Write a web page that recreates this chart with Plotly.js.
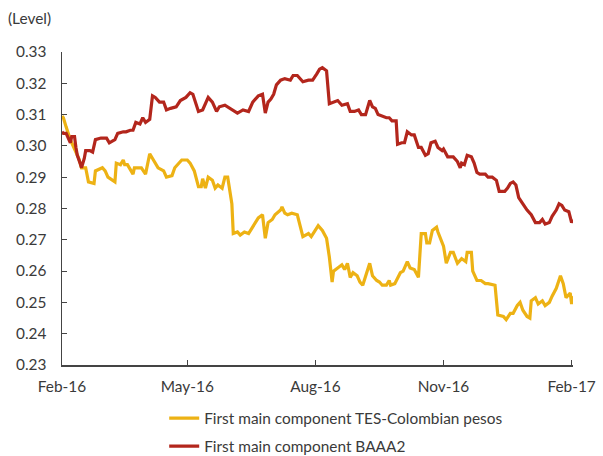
<!DOCTYPE html>
<html>
<head>
<meta charset="utf-8">
<script src="https://cdn.plot.ly/plotly-3.0.1.min.js"></script>
<style>html,body{margin:0;padding:0;background:#fff;}#chart{width:603px;height:456px;}</style>
</head>
<body>
<div id="chart"></div>
<script>
// First main component TES-Colombian pesos
var tesDates = ["2016-02-01","2016-02-02","2016-02-04","2016-02-07","2016-02-10","2016-02-13","2016-02-15","2016-02-18","2016-02-20","2016-02-24","2016-02-25",
"2016-03-01","2016-03-03","2016-03-05","2016-03-10","2016-03-11","2016-03-14","2016-03-16","2016-03-17","2016-03-19","2016-03-23","2016-03-24","2016-03-29",
"2016-04-01","2016-04-04","2016-04-06","2016-04-10","2016-04-14","2016-04-16","2016-04-20","2016-04-22","2016-04-27",
"2016-05-01","2016-05-03","2016-05-06","2016-05-09","2016-05-11","2016-05-12","2016-05-14","2016-05-16","2016-05-19","2016-05-21","2016-05-23","2016-05-26","2016-05-28","2016-05-30",
"2016-06-02","2016-06-03","2016-06-06","2016-06-08","2016-06-11","2016-06-14","2016-06-17","2016-06-21","2016-06-24","2016-06-26","2016-06-28",
"2016-07-01","2016-07-03","2016-07-07","2016-07-08","2016-07-10","2016-07-12","2016-07-15","2016-07-19","2016-07-23","2016-07-27","2016-07-29",
"2016-08-03","2016-08-06","2016-08-09","2016-08-11","2016-08-13","2016-08-14","2016-08-17","2016-08-20","2016-08-22","2016-08-24","2016-08-26","2016-08-28","2016-08-31",
"2016-09-02","2016-09-04","2016-09-07","2016-09-09","2016-09-11","2016-09-14","2016-09-16","2016-09-18","2016-09-21","2016-09-23","2016-09-24","2016-09-27",
"2016-10-01","2016-10-03","2016-10-06","2016-10-08","2016-10-11","2016-10-14","2016-10-16","2016-10-19","2016-10-20","2016-10-22","2016-10-24","2016-10-27","2016-10-28","2016-10-31",
"2016-11-01","2016-11-03","2016-11-06","2016-11-08","2016-11-09","2016-11-11","2016-11-14","2016-11-17","2016-11-18","2016-11-21","2016-11-22","2016-11-25","2016-11-28",
"2016-12-01","2016-12-03","2016-12-08","2016-12-10","2016-12-14","2016-12-16","2016-12-19","2016-12-21","2016-12-24","2016-12-26","2016-12-28","2016-12-31",
"2017-01-02","2017-01-03","2017-01-06","2017-01-08","2017-01-11","2017-01-13","2017-01-16","2017-01-18","2017-01-21","2017-01-24","2017-01-26","2017-01-28","2017-01-31",
"2017-02-01","2017-02-02"];
var tesValues = [0.3095,0.309,0.306,0.302,0.299,0.296,0.293,0.293,0.2885,0.288,0.292,
0.293,0.292,0.290,0.2885,0.2945,0.294,0.2955,0.294,0.294,0.291,0.293,0.293,
0.291,0.2975,0.296,0.293,0.292,0.290,0.2905,0.293,0.2955,
0.2955,0.2945,0.292,0.287,0.287,0.2895,0.2865,0.290,0.289,0.2865,0.2875,0.2865,0.290,0.290,
0.2815,0.272,0.2725,0.2715,0.2725,0.272,0.274,0.277,0.278,0.2705,0.2755,
0.2765,0.278,0.2795,0.2805,0.2785,0.278,0.2785,0.278,0.271,0.272,0.271,
0.2745,0.273,0.2705,0.2645,0.2565,0.260,0.261,0.262,0.2605,0.2625,0.258,0.2595,0.2585,
0.2565,0.2555,0.2595,0.2625,0.2585,0.257,0.2565,0.2555,0.2555,0.257,0.2555,0.256,
0.2595,0.260,0.263,0.261,0.2605,0.258,0.272,0.272,0.269,0.269,0.273,0.274,0.2725,0.269,
0.268,0.2625,0.266,0.266,0.265,0.2625,0.264,0.263,0.266,0.266,0.260,0.257,0.257,
0.256,0.256,0.2555,0.246,0.2455,0.2445,0.2465,0.2465,0.249,0.250,0.2475,0.2455,
0.245,0.2505,0.2515,0.2495,0.2505,0.249,0.250,0.252,0.2545,0.2585,0.256,0.2515,0.253,
0.2495,0.252];

// First main component BAAA2
var baaDates = ["2016-02-01","2016-02-02","2016-02-04","2016-02-07","2016-02-08","2016-02-10","2016-02-11","2016-02-12","2016-02-14","2016-02-15","2016-02-17","2016-02-18","2016-02-21","2016-02-23","2016-02-25","2016-02-29",
"2016-03-04","2016-03-06","2016-03-10","2016-03-12","2016-03-16","2016-03-18","2016-03-21","2016-03-23","2016-03-25","2016-03-28","2016-03-30",
"2016-04-01","2016-04-04","2016-04-06","2016-04-08","2016-04-11","2016-04-14","2016-04-16","2016-04-19","2016-04-23","2016-04-26","2016-04-30",
"2016-05-03","2016-05-05","2016-05-09","2016-05-12","2016-05-16","2016-05-19","2016-05-22","2016-05-24","2016-05-28","2016-05-30",
"2016-06-04","2016-06-06","2016-06-10","2016-06-14","2016-06-17","2016-06-21","2016-06-24","2016-06-26","2016-06-28","2016-06-30",
"2016-07-02","2016-07-04","2016-07-07","2016-07-10","2016-07-14","2016-07-16","2016-07-19","2016-07-23","2016-07-27","2016-07-30",
"2016-08-02","2016-08-04","2016-08-06","2016-08-09","2016-08-11","2016-08-14","2016-08-17","2016-08-20","2016-08-24","2016-08-26","2016-08-29",
"2016-09-01","2016-09-03","2016-09-06","2016-09-08","2016-09-09","2016-09-11","2016-09-13","2016-09-15","2016-09-18","2016-09-21","2016-09-23","2016-09-25","2016-09-28","2016-09-29",
"2016-10-02","2016-10-04","2016-10-06","2016-10-09","2016-10-11","2016-10-14","2016-10-16","2016-10-19","2016-10-21","2016-10-23","2016-10-26","2016-10-28","2016-10-31",
"2016-11-01","2016-11-04","2016-11-08","2016-11-11","2016-11-13","2016-11-14","2016-11-16","2016-11-18","2016-11-21","2016-11-23","2016-11-25","2016-11-27",
"2016-12-01","2016-12-03","2016-12-06","2016-12-09","2016-12-11","2016-12-15","2016-12-17","2016-12-19","2016-12-21","2016-12-23","2016-12-25","2016-12-28","2016-12-31",
"2017-01-03","2017-01-06","2017-01-09","2017-01-11","2017-01-13","2017-01-16","2017-01-18","2017-01-21","2017-01-23","2017-01-25","2017-01-27","2017-01-29","2017-01-30",
"2017-02-01","2017-02-02"];
var baaValues = [0.3045,0.304,0.304,0.301,0.303,0.303,0.2995,0.297,0.2945,0.293,0.296,0.2985,0.2985,0.298,0.302,0.3025,
0.3025,0.301,0.302,0.304,0.3045,0.3045,0.305,0.305,0.3075,0.307,0.309,
0.3075,0.3085,0.316,0.3155,0.314,0.314,0.3115,0.312,0.3125,0.3145,0.3155,
0.317,0.3165,0.311,0.3115,0.3155,0.314,0.311,0.3125,0.313,0.3125,
0.311,0.3105,0.3115,0.311,0.314,0.316,0.3165,0.3105,0.314,0.315,
0.3165,0.3195,0.321,0.3215,0.321,0.3225,0.3225,0.3205,0.321,0.321,
0.323,0.3245,0.325,0.324,0.3135,0.314,0.3145,0.313,0.3135,0.311,0.311,
0.3115,0.310,0.310,0.313,0.3145,0.3125,0.312,0.310,0.3095,0.309,0.309,0.308,0.308,0.3005,
0.301,0.301,0.3045,0.3035,0.3035,0.2995,0.2995,0.297,0.2975,0.301,0.3015,0.2995,0.2985,
0.299,0.2965,0.2965,0.295,0.293,0.2945,0.294,0.297,0.2965,0.2945,0.2915,0.291,
0.291,0.290,0.290,0.289,0.2855,0.2855,0.2865,0.288,0.2885,0.2875,0.2835,0.2815,0.2795,
0.278,0.2755,0.2755,0.2765,0.275,0.2755,0.2775,0.2795,0.2815,0.281,0.2795,0.279,0.279,
0.2755,0.2765];

var seriesNames = ["First main component TES-Colombian pesos","First main component BAAA2"];
var seriesColors = ["#EDB214","#B3261C"];
var xTickVals = ["2016-02-01","2016-05-01","2016-08-01","2016-11-01","2017-02-01"];
var xTickText = ["Feb-16","May-16","Aug-16","Nov-16","Feb-17"];
var yTickVals = [0.23,0.24,0.25,0.26,0.27,0.28,0.29,0.30,0.31,0.32,0.33];
var yAxisLabel = "(Level)";

var FONT = "Lato, 'Open Sans', sans-serif";
var FS = 15.4;
var traces = [
  {x: tesDates, y: tesValues, name: seriesNames[0], type: "scatter", mode: "lines",
   line: {color: seriesColors[0], width: 3.2}, legendgroup: "a"},
  {x: baaDates, y: baaValues, name: seriesNames[1], type: "scatter", mode: "lines",
   line: {color: seriesColors[1], width: 3.2}, legendgroup: "b"}
];
var layout = {
  width: 603, height: 456,
  margin: {l: 62, r: 30, t: 52, b: 91, autoexpand: false},
  paper_bgcolor: "#fff", plot_bgcolor: "#fff",
  font: {family: FONT, size: FS, color: "#3a3a3a"},
  showlegend: true,
  legend: {x: 0.2, xanchor: "left", y: -0.117, yanchor: "top", orientation: "v",
    font: {family: FONT, size: FS, color: "#3a3a3a"}, tracegroupgap: 5,
    traceorder: "grouped", bgcolor: "rgba(0,0,0,0)"},
  xaxis: {type: "date", range: ["2016-02-01","2017-02-02"], tickmode: "array",
    tickvals: xTickVals, ticktext: xTickText, ticks: "inside", ticklen: 5,
    tickcolor: "#444", showline: true, linecolor: "#444", linewidth: 1.5,
    showgrid: false, zeroline: false, ticklabelstandoff: 7,
    tickfont: {family: FONT, size: FS, color: "#3a3a3a"}},
  yaxis: {range: [0.23, 0.33], tickmode: "array", tickvals: yTickVals,
    tickformat: ".2f", ticks: "inside", ticklen: 5, tickcolor: "#444",
    showline: true, linecolor: "#444", linewidth: 1.5, showgrid: false,
    zeroline: false, ticklabelstandoff: 11,
    tickfont: {family: FONT, size: FS, color: "#3a3a3a"}},
  annotations: [{text: yAxisLabel, xref: "paper", yref: "paper",
    x: -0.11, y: 1.108, xanchor: "left", yanchor: "middle", showarrow: false,
    font: {family: FONT, size: FS, color: "#3a3a3a"}}]
};
Plotly.newPlot("chart", traces, layout, {displayModeBar: false, staticPlot: true});
</script>
</body>
</html>
